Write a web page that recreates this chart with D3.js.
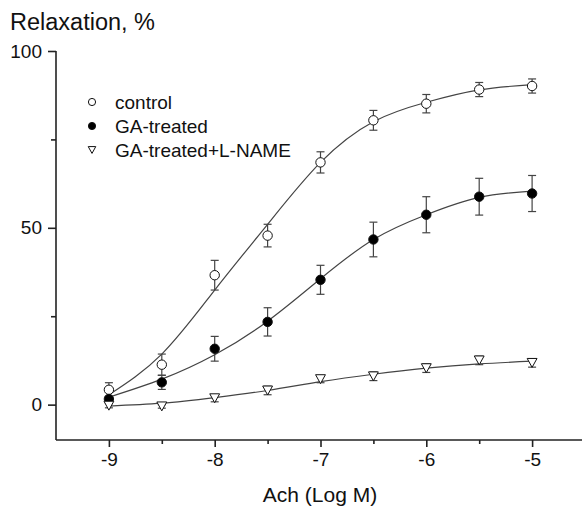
<!DOCTYPE html>
<html>
<head>
<meta charset="utf-8">
<script src="https://cdn.jsdelivr.net/npm/d3@7/dist/d3.min.js"></script>
<style>
  body { margin: 0; background: #fff; }
  svg { display: block; font-family: "Liberation Sans", Arial, sans-serif; }
</style>
</head>
<body>
<script>
// Ach concentrations (log M)
const logConc = [-9, -8.5, -8, -7.5, -7, -6.5, -6, -5.5, -5];

// mean relaxation, % and SEM
const control    = [4.2, 11.3, 36.6, 47.8, 68.5, 80.4, 85.1, 89.1, 90.1];
const controlErr = [2.0, 3.0, 4.2, 3.2, 3.0, 2.8, 2.6, 2.0, 2.0];
const ga         = [1.6, 6.3, 15.8, 23.4, 35.3, 46.7, 53.7, 58.8, 59.7];
const gaErr      = [0.8, 2.0, 3.5, 4.0, 4.1, 4.9, 5.1, 5.2, 5.1];
const lname      = [-0.3, -0.5, 1.8, 4.0, 7.2, 8.0, 10.3, 12.5, 11.8];
const lnameErr   = [0.6, 0.5, 1.0, 1.2, 1.0, 1.2, 1.2, 1.2, 1.2];

// fitted curves, read at the same concentrations
const controlFit = [2.8, 14.3, 32.4, 51.0, 68.5, 80.0, 85.5, 89.0, 90.5];
const gaFit      = [2.1, 7.2, 14.1, 23.6, 35.6, 46.7, 53.7, 58.6, 60.4];
const lnameFit   = [-0.4, 0.4, 2.0, 4.0, 6.5, 8.6, 10.3, 11.5, 12.3];

const seriesNames = ["control", "GA-treated", "GA-treated+L-NAME"];
const xTicks = [-9, -8, -7, -6, -5];
const xMinorTicks = [-8.5, -7.5, -6.5, -5.5];
const yTicks = [0, 50, 100];
const yMinorTicks = [25, 75];

const width = 582, height = 507;

const x = d3.scaleLinear().domain([-9.5, -4.5]).range([56, 585]);
const y = d3.scaleLinear().domain([-10, 100]).range([440, 51]);

const svg = d3.select("body").append("svg")
  .attr("width", width)
  .attr("height", height);

const series = [
  { name: seriesNames[0], vals: control, err: controlErr, fit: controlFit, shape: "open" },
  { name: seriesNames[1], vals: ga, err: gaErr, fit: gaFit, shape: "filled" },
  { name: seriesNames[2], vals: lname, err: lnameErr, fit: lnameFit, shape: "tri" }
];

// fitted lines
const line = d3.line()
  .x((d, i) => x(logConc[i]))
  .y(d => y(d))
  .curve(d3.curveNatural);

svg.append("g")
  .selectAll("path")
  .data(series)
  .join("path")
  .attr("fill", "none")
  .attr("stroke", "#444")
  .attr("stroke-width", 1.2)
  .attr("d", d => line(d.fit));

// error bars
const capW = 4;
series.forEach(s => {
  const g = svg.append("g").attr("stroke", "#444").attr("stroke-width", 1.2);
  s.vals.forEach((v, i) => {
    const cx = x(logConc[i]);
    const top = y(v + s.err[i]), bot = y(v - s.err[i]);
    g.append("line").attr("x1", cx).attr("x2", cx).attr("y1", top).attr("y2", bot);
    g.append("line").attr("x1", cx - capW).attr("x2", cx + capW).attr("y1", top).attr("y2", top);
    g.append("line").attr("x1", cx - capW).attr("x2", cx + capW).attr("y1", bot).attr("y2", bot);
  });
});

// marker helper
function marker(g, shape, cx, cy, r) {
  if (shape === "tri") {
    const w = r * 2.1, h = r * 1.9;
    g.append("path")
      .attr("d", `M${cx - w / 2},${cy - h / 2}L${cx + w / 2},${cy - h / 2}L${cx},${cy + h / 2}Z`)
      .attr("fill", "#fff")
      .attr("stroke", "#111")
      .attr("stroke-width", 1);
  } else {
    g.append("circle")
      .attr("cx", cx).attr("cy", cy).attr("r", r)
      .attr("fill", shape === "filled" ? "#000" : "#fff")
      .attr("stroke", "#111")
      .attr("stroke-width", 1);
  }
}

series.forEach(s => {
  const g = svg.append("g");
  s.vals.forEach((v, i) => marker(g, s.shape, x(logConc[i]), y(v), 4.7));
});

// axes
const axisG = svg.append("g").attr("stroke", "#222").attr("stroke-width", 1.6);
axisG.append("line").attr("x1", x(-9.5)).attr("x2", width + 10).attr("y1", y(-10)).attr("y2", y(-10));
axisG.append("line").attr("x1", x(-9.5)).attr("x2", x(-9.5)).attr("y1", y(-10)).attr("y2", y(100));

const plainNum = d => String(d);
const xAxis = d3.axisBottom(x).tickValues(xTicks).tickSize(7).tickPadding(6).tickFormat(plainNum);
const xAxisMinor = d3.axisBottom(x).tickValues(xMinorTicks).tickSize(4).tickFormat("");
const yAxis = d3.axisLeft(y).tickValues(yTicks).tickSize(8).tickPadding(6).tickFormat(plainNum);
const yAxisMinor = d3.axisLeft(y).tickValues(yMinorTicks).tickSize(5).tickFormat("");

function styleAxis(g) {
  g.select(".domain").remove();
  g.selectAll(".tick line").attr("stroke", "#222").attr("stroke-width", 1.6);
  g.selectAll(".tick text")
    .attr("fill", "#111")
    .style("font-family", "'Liberation Sans', Arial, sans-serif")
    .style("font-size", "19px");
}

svg.append("g").attr("transform", `translate(0,${y(-10)})`).call(xAxis).call(styleAxis);
svg.append("g").attr("transform", `translate(0,${y(-10)})`).call(xAxisMinor).call(styleAxis);
svg.append("g").attr("transform", `translate(${x(-9.5)},0)`).call(yAxis).call(styleAxis);
svg.append("g").attr("transform", `translate(${x(-9.5)},0)`).call(yAxisMinor).call(styleAxis);

// titles
svg.append("text")
  .attr("x", 10).attr("y", 30)
  .attr("fill", "#111")
  .style("font-size", "23.5px")
  .text("Relaxation, %");

svg.append("text")
  .attr("x", 320).attr("y", 502)
  .attr("text-anchor", "middle")
  .attr("fill", "#111")
  .style("font-size", "21px")
  .text("Ach (Log M)");

// legend
const legend = svg.append("g");
series.forEach((s, i) => {
  const cy = 102 + i * 24;
  marker(legend, s.shape, 92, cy, 3.6);
  legend.append("text")
    .attr("x", 115).attr("y", cy + 6.5)
    .attr("fill", "#111")
    .style("font-size", "19px")
    .text(s.name);
});
</script>
</body>
</html>
